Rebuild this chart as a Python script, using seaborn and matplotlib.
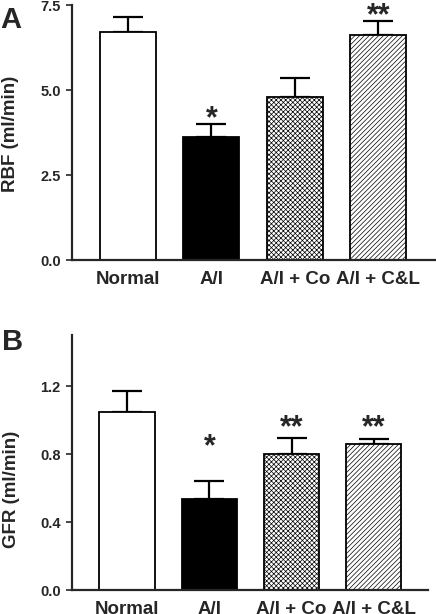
import pandas as pd
import matplotlib
matplotlib.use('Agg')
import matplotlib.pyplot as plt
import seaborn as sns

groups = ['Normal', 'A/I', 'A/I + Co', 'A/I + C&L']
rbf = [6.72, 3.61, 4.80, 6.62]
rbf_err = [0.44, 0.39, 0.57, 0.41]
gfr = [1.05, 0.534, 0.80, 0.859]
gfr_err = [0.12, 0.107, 0.098, 0.033]
rbf_stars = ['', '*', '', '**']
rbf_star_y = [0, 3.90, 0, 6.93]
gfr_stars = ['', '*', '**', '**']
gfr_star_y = [0, 0.795, 0.905, 0.905]

fills = ['white', 'black', 'white', 'white']
hatches = ['', '', 'xxxxxxx', '///////']

sns.set_style('ticks')
plt.rcParams['font.family'] = ['Liberation Sans', 'DejaVu Sans']
plt.rcParams['font.weight'] = 'bold'
plt.rcParams['hatch.linewidth'] = 0.5
plt.rcParams['hatch.color'] = 'black'

fig = plt.figure(figsize=(4.36, 6.14), dpi=100)
axA = fig.add_axes([0.165, 0.5765, 0.833, 0.415])
axB = fig.add_axes([0.165, 0.039, 0.817, 0.415])


def panel(ax, vals, errs, stars, star_y, ylabel, ylim, yticks, xlim, label_y):
    df = pd.DataFrame({'group': groups, 'val': vals})
    sns.barplot(data=df, x='group', y='val', hue='group', palette=fills,
                legend=False, edgecolor='black', linewidth=1.3, width=0.67,
                ax=ax, zorder=2)
    for p, h in zip(ax.patches, hatches):
        p.set_hatch(h)
    ax.errorbar(range(len(groups)), vals, yerr=[[0] * len(errs), errs],
                fmt='none', ecolor='black', elinewidth=1.6, capsize=11,
                capthick=1.6, zorder=1)
    for i, (s, y) in enumerate(zip(stars, star_y)):
        if s:
            ax.text(i, y, s, ha='center', va='baseline', fontsize=22,
                    fontweight='bold')
    ax.set_ylim(*ylim)
    ax.set_xlim(*xlim)
    ax.set_yticks(yticks)
    ax.set_yticklabels([f'{t:.1f}' for t in yticks], fontsize=10.5,
                       fontweight='bold')
    ax.set_xticks(range(len(groups)))
    ax.set_xticklabels(groups, fontsize=13.5, fontweight='bold')
    ax.tick_params(axis='x', length=0, pad=8)
    ax.tick_params(axis='y', length=4, width=1.2, pad=4)
    ax.set_xlabel('')
    ax.set_ylabel(ylabel, fontsize=13.5, fontweight='bold')
    ax.yaxis.set_label_coords(-0.145, label_y)
    for side in ['top', 'right']:
        ax.spines[side].set_visible(False)
    for side in ['left', 'bottom']:
        ax.spines[side].set_linewidth(1.6)


panel(axA, rbf, rbf_err, rbf_stars, rbf_star_y, 'RBF (ml/min)',
      (0, 7.5), [0, 2.5, 5.0, 7.5], (-0.67, 3.68), 0.494)
panel(axB, gfr, gfr_err, gfr_stars, gfr_star_y, 'GFR (ml/min)',
      (0, 1.5), [0, 0.4, 0.8, 1.2], (-0.67, 3.66), 0.396)

fig.text(0.0, 0.99, 'A', fontsize=21, fontweight='bold', va='top', ha='left')
fig.text(0.005, 0.465, 'B', fontsize=21, fontweight='bold', va='top', ha='left')

fig.savefig('out.png', dpi=100)
